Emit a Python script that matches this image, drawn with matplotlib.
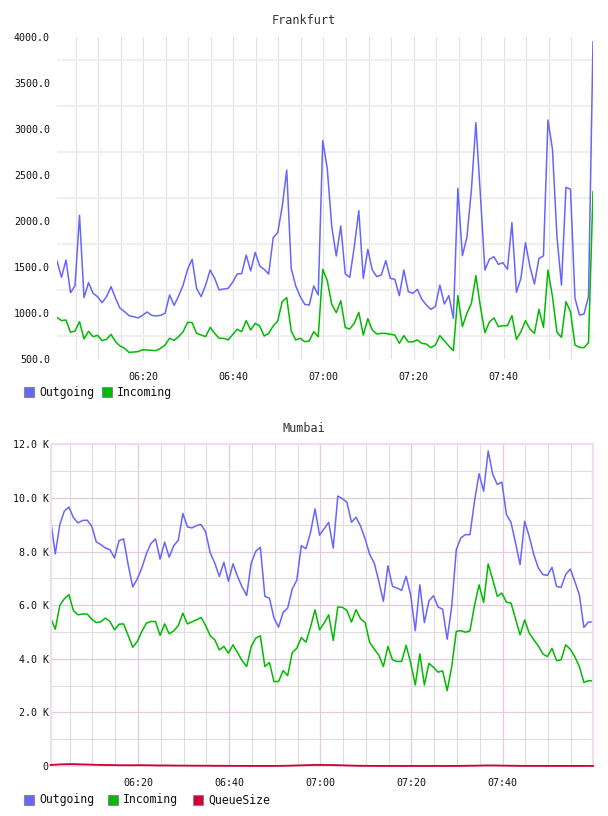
import numpy as np
import pandas as pd
import matplotlib
matplotlib.use("Agg")
import matplotlib.pyplot as plt
import matplotlib.dates as mdates
from matplotlib.patches import Rectangle
from matplotlib.ticker import MultipleLocator, FuncFormatter

plt.rcParams["font.family"] = ["DejaVu Sans Mono", "DejaVu Sans"]

# one sample per minute
minutes = pd.date_range("2024-01-01 06:00:50", periods=120, freq="min")

# Frankfurt
fra_out = [
    1565, 1388, 1576, 1221, 1297, 2062, 1167, 1330, 1214, 1178,
    1112, 1178, 1286, 1160, 1051, 1015, 971, 960, 946, 975,
    1011, 975, 968, 975, 997, 1196, 1083, 1185, 1304, 1475,
    1583, 1265, 1178, 1304, 1467, 1377, 1250, 1261, 1268, 1335,
    1424, 1428, 1630, 1457, 1659, 1511, 1475, 1424, 1819, 1873,
    2156, 2554, 1486, 1294, 1178, 1094, 1087, 1294, 1196, 2873,
    2572, 1938, 1620, 1946, 1424, 1388, 1721, 2112, 1377, 1692,
    1467, 1395, 1413, 1569, 1377, 1366, 1189, 1467, 1232, 1214,
    1257, 1149, 1087, 1040, 1069, 1304, 1098, 1189, 942, 2355,
    1623, 1822, 2337, 3069, 2283, 1467, 1583, 1612, 1529, 1547,
    1475, 1982, 1225, 1377, 1764, 1504, 1315, 1594, 1620, 3098,
    2779, 1829, 1304, 2366, 2345, 1160, 978, 989, 1178, 3949,
]
fra_in = [
    953, 917, 924, 790, 804, 906, 718, 801, 743, 757,
    699, 714, 768, 688, 641, 616, 572, 576, 580, 601,
    598, 594, 591, 616, 652, 725, 703, 743, 797, 899,
    895, 779, 761, 743, 844, 779, 725, 725, 707, 765,
    823, 797, 917, 815, 888, 859, 750, 779, 859, 913,
    1123, 1167, 804, 707, 725, 688, 696, 797, 743, 1475,
    1352, 1094, 1004, 1134, 841, 826, 888, 1007, 761, 938,
    815, 772, 779, 779, 768, 761, 670, 754, 685, 687,
    707, 670, 663, 623, 652, 754, 699, 641, 591, 1189,
    852, 996, 1105, 1406, 1069, 786, 902, 946, 852, 862,
    862, 971, 714, 797, 917, 826, 779, 1040, 844, 1467,
    1178, 790, 736, 1123, 1014, 652, 627, 623, 678, 2319,
]

# Mumbai (thousands)
mum_out = [
    9.16, 7.91, 9.01, 9.51, 9.66, 9.26, 9.07, 9.16, 9.17, 8.95,
    8.36, 8.26, 8.13, 8.07, 7.76, 8.41, 8.47, 7.51, 6.68, 6.98,
    7.39, 7.92, 8.30, 8.47, 7.72, 8.35, 7.79, 8.22, 8.42, 9.42,
    8.92, 8.88, 8.97, 9.01, 8.73, 7.95, 7.57, 7.07, 7.60, 6.89,
    7.54, 7.07, 6.68, 6.36, 7.57, 8.01, 8.16, 6.33, 6.26, 5.52,
    5.18, 5.73, 5.89, 6.60, 6.93, 8.22, 8.10, 8.70, 9.59, 8.61,
    8.85, 9.09, 8.13, 10.07, 9.97, 9.84, 9.09, 9.28, 8.95, 8.47,
    7.89, 7.57, 6.89, 6.14, 7.47, 6.70, 6.64, 6.55, 7.08, 6.37,
    5.05, 6.76, 5.35, 6.16, 6.35, 5.93, 5.85, 4.73, 5.95, 8.07,
    8.51, 8.63, 8.63, 9.88, 10.90, 10.25, 11.75, 10.88, 10.50, 10.59,
    9.38, 9.09, 8.32, 7.51, 9.13, 8.57, 7.89, 7.39, 7.14, 7.11,
    7.41, 6.70, 6.66, 7.14, 7.35, 6.89, 6.39, 5.17, 5.37, 5.37,
]
mum_in = [
    5.52, 5.10, 5.99, 6.24, 6.39, 5.79, 5.64, 5.67, 5.67, 5.48,
    5.35, 5.38, 5.52, 5.39, 5.08, 5.29, 5.30, 4.87, 4.43, 4.64,
    5.02, 5.33, 5.39, 5.39, 4.87, 5.30, 4.93, 5.04, 5.24, 5.70,
    5.30, 5.38, 5.45, 5.54, 5.24, 4.86, 4.71, 4.33, 4.46, 4.21,
    4.52, 4.23, 3.93, 3.71, 4.46, 4.77, 4.86, 3.71, 3.86, 3.15,
    3.15, 3.56, 3.37, 4.23, 4.39, 4.79, 4.62, 5.17, 5.83, 5.08,
    5.33, 5.64, 4.68, 5.93, 5.92, 5.80, 5.37, 5.83, 5.49, 5.35,
    4.61, 4.36, 4.14, 3.71, 4.46, 3.96, 3.90, 3.90, 4.50, 3.84,
    3.02, 4.18, 3.02, 3.83, 3.68, 3.50, 3.55, 2.81, 3.71, 5.02,
    5.05, 4.99, 5.04, 5.99, 6.76, 6.10, 7.54, 6.95, 6.33, 6.45,
    6.11, 6.08, 5.49, 4.89, 5.45, 4.96, 4.71, 4.48, 4.18, 4.08,
    4.39, 3.93, 3.96, 4.52, 4.36, 4.08, 3.71, 3.12, 3.18, 3.18,
]
mum_queue = [
    0.040, 0.050, 0.060, 0.065, 0.070, 0.070, 0.065, 0.060, 0.055, 0.050,
    0.045, 0.040, 0.038, 0.035, 0.032, 0.030, 0.030, 0.028, 0.028, 0.030,
    0.030, 0.028, 0.025, 0.022, 0.020, 0.020, 0.018, 0.016, 0.015, 0.015,
    0.014, 0.012, 0.012, 0.010, 0.010, 0.010, 0.008, 0.008, 0.006, 0.006,
    0.005, 0.005, 0.004, 0.004, 0.003, 0.003, 0.002, 0.002, 0.002, 0.003,
    0.005, 0.008, 0.010, 0.015, 0.020, 0.025, 0.030, 0.035, 0.040, 0.040,
    0.038, 0.036, 0.034, 0.030, 0.025, 0.020, 0.015, 0.010, 0.008, 0.006,
    0.005, 0.004, 0.003, 0.003, 0.002, 0.002, 0.002, 0.002, 0.002, 0.002,
    0.002, 0.002, 0.002, 0.002, 0.002, 0.002, 0.002, 0.002, 0.002, 0.003,
    0.005, 0.008, 0.010, 0.012, 0.015, 0.018, 0.020, 0.020, 0.018, 0.015,
    0.012, 0.010, 0.008, 0.006, 0.005, 0.005, 0.004, 0.004, 0.003, 0.003,
    0.003, 0.003, 0.003, 0.003, 0.003, 0.003, 0.003, 0.003, 0.003, 0.003,
]

BLUE = "#6666ff"
GREEN = "#00bb00"
RED = "#cc0033"
PINK = "#e2cce2"
W, H = 608, 816


def legend(fig, y, items):
    # items: (x of square in px, label, colour)
    for x, label, color in items:
        fig.add_artist(Rectangle((x / W, 1 - (y + 5) / H), 10 / W, 10 / H,
                                 transform=fig.transFigure, facecolor=color,
                                 edgecolor="#888888", lw=0.8))
        fig.text((x + 15) / W, 1 - y / H, label, fontsize=8.3,
                 va="center", ha="left", color="#111111")


def time_axis(ax):
    ax.set_xlim(minutes[0], minutes[-1])
    ax.xaxis.set_major_locator(mdates.MinuteLocator(byminute=[0, 20, 40]))
    ax.xaxis.set_minor_locator(mdates.MinuteLocator(byminute=range(0, 60, 5)))
    ax.xaxis.set_major_formatter(mdates.DateFormatter("%H:%M"))
    ax.tick_params(which="both", length=0, labelsize=7.2, labelcolor="#111111")
    ax.tick_params(axis="x", pad=9)


fig = plt.figure(figsize=(W / 100, H / 100), dpi=100)

# ---- Frankfurt ----
ax1 = fig.add_axes([57 / W, 1 - 359 / H, 536 / W, 322 / H])
ax1.plot(minutes, fra_out, color=BLUE, lw=1.1)
ax1.plot(minutes, fra_in, color=GREEN, lw=1.1)
time_axis(ax1)
ax1.set_ylim(500, 4000)
ax1.yaxis.set_major_locator(MultipleLocator(500))
ax1.yaxis.set_major_formatter(FuncFormatter(lambda v, p: f"{v:.1f}"))
ax1.set_yticks(np.arange(750, 4000, 500), minor=True)
for s in ax1.spines.values():
    s.set_visible(False)
ax1.grid(which="minor", axis="y", color="#efefef", lw=1.6)
ax1.grid(which="both", axis="x", color="#e2e2e2", lw=0.8)
ax1.tick_params(axis="y", pad=5)
ax1.set_axisbelow(True)
fig.text(0.5, 1 - 20 / H, "Frankfurt", ha="center", va="center",
         fontsize=8.5, color="#333333")
legend(fig, 392, [(24, "Outgoing", BLUE), (102, "Incoming", GREEN)])

# ---- Mumbai ----
ax2 = fig.add_axes([50.7 / W, 1 - 766 / H, 542.3 / W, 321.7 / H])
ax2.plot(minutes, mum_out, color=BLUE, lw=1.1)
ax2.plot(minutes, mum_in, color=GREEN, lw=1.1)
ax2.plot(minutes, mum_queue, color=RED, lw=1.3, clip_on=False, zorder=5)
time_axis(ax2)
ax2.set_ylim(0, 12)
ax2.yaxis.set_major_locator(MultipleLocator(2))
ax2.yaxis.set_minor_locator(MultipleLocator(1))
ax2.yaxis.set_major_formatter(
    FuncFormatter(lambda v, p: "0" if v == 0 else f"{v:.1f} K"))
for s in ax2.spines.values():
    s.set_color("#eedfee")
    s.set_linewidth(1.6)
ax2.grid(which="major", color=PINK, lw=0.9)
ax2.grid(which="minor", color="#dedede", lw=0.8)
ax2.tick_params(axis="y", pad=1.5)
ax2.set_axisbelow(True)
fig.text(0.5, 1 - 429 / H, "Mumbai", ha="center", va="center",
         fontsize=8.5, color="#333333")
legend(fig, 800, [(24, "Outgoing", BLUE), (108, "Incoming", GREEN),
                  (193, "QueueSize", RED)])

fig.savefig("out.png", dpi=100)
